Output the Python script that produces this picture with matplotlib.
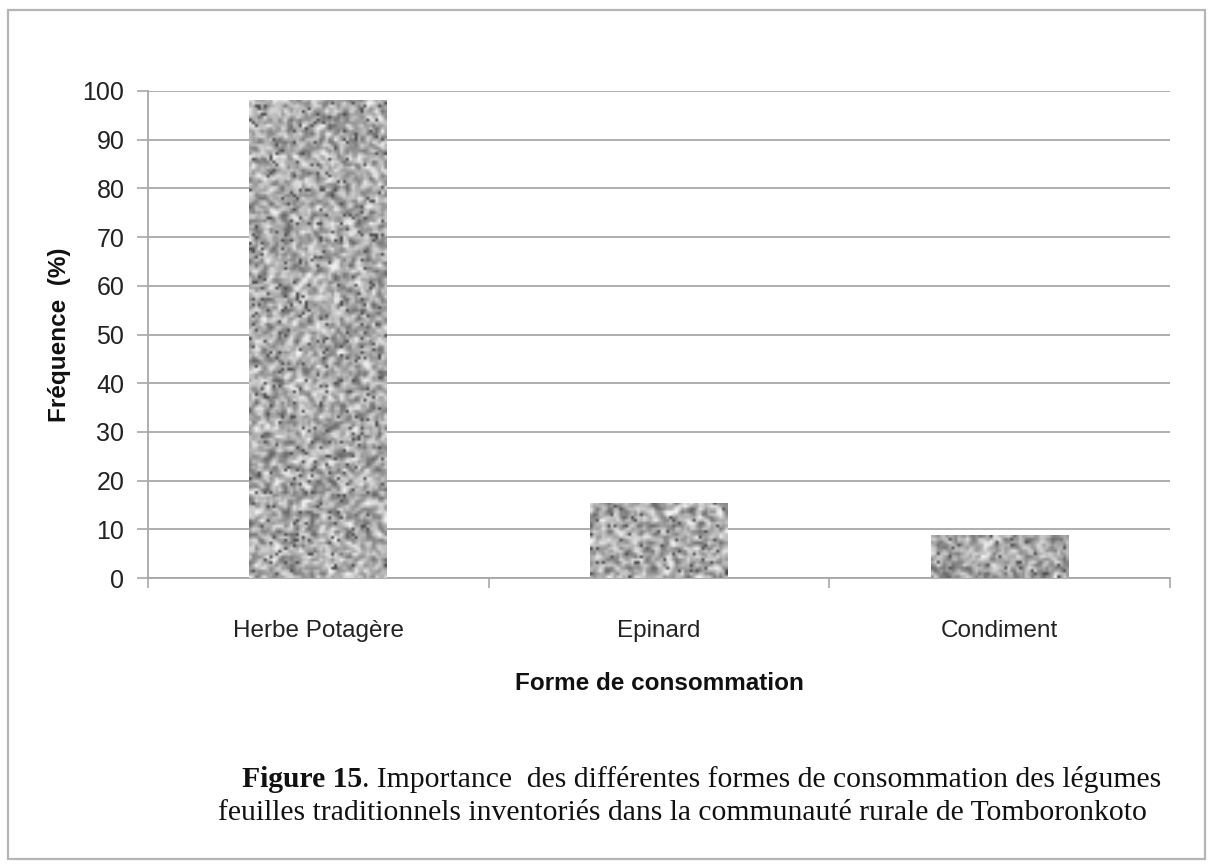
import numpy as np
import matplotlib.pyplot as plt
from matplotlib.patches import Rectangle

# data
categories = ["Herbe Potagère", "Epinard", "Condiment"]
frequences = [98.2, 15.5, 8.8]
yticks = list(range(0, 101, 10))

SANS = ["Liberation Sans", "DejaVu Sans"]
SERIF = ["Liberation Serif", "DejaVu Serif"]

fig = plt.figure(figsize=(12.11, 8.64), dpi=100)
fig.patch.set_facecolor("white")

# outer frame of the figure
fig.add_artist(Rectangle((0.007, 0.006), 0.988, 0.982, transform=fig.transFigure,
                         fill=False, edgecolor="#b5b5b5", linewidth=1.6))

ax = fig.add_axes([148 / 1211, 1 - 578 / 864, (1170 - 148) / 1211, (578 - 91) / 864])

x = np.arange(len(categories))
bars = ax.bar(x, frequences, width=0.405, color="none", edgecolor="none", zorder=3)

# granite-like texture clipped to each bar
rng = np.random.default_rng(15)
for b in bars:
    h = max(int(b.get_height() * 1.75), 8)
    noise = rng.random((h + 1, 48))
    noise = 0.55 * noise[:-1, :] + 0.45 * noise[1:, :]
    noise = 0.55 * noise[:, :-1] + 0.45 * noise[:, 1:]
    img = 0.40 + 0.55 * np.clip((noise - 0.15) / 0.7, 0, 1)
    specks = rng.random(img.shape) < 0.05
    img[specks] = 0.30
    im = ax.imshow(img, cmap="gray", vmin=0, vmax=1, aspect="auto",
                   interpolation="bilinear",
                   extent=(b.get_x(), b.get_x() + b.get_width(), 0, b.get_height()),
                   zorder=3)
    im.set_clip_path(b)

ax.set_xlim(-0.5, len(categories) - 0.5)
ax.set_ylim(0, 100)
ax.set_yticks(yticks)
ax.set_xticks(x)
ax.set_xticklabels(categories, fontfamily=SANS, fontsize=17.5, color="#222222")
ax.set_yticklabels([str(v) for v in yticks], fontfamily=SANS, fontsize=18, color="#222222")
ax.set_xticks(np.arange(-0.5, len(categories)), minor=True)

ax.yaxis.grid(True, color="#a8a8a8", linewidth=1.3, zorder=0)
ax.set_axisbelow(True)
ax.tick_params(axis="y", length=8, width=1.2, color="#a8a8a8", pad=9)
ax.tick_params(axis="x", which="major", length=0, pad=30)
ax.tick_params(axis="x", which="minor", length=7, width=1.2, color="#a8a8a8")

for s in ["top", "right"]:
    ax.spines[s].set_visible(False)
for s in ["left", "bottom"]:
    ax.spines[s].set_color("#a8a8a8")
    ax.spines[s].set_linewidth(1.3)

ax.set_ylabel("Fréquence  (%)", fontfamily=SANS, fontsize=17.5, fontweight="bold",
              color="#111111", labelpad=8)
ax.set_xlabel("Forme de consommation", fontfamily=SANS, fontsize=17.5, fontweight="bold",
              color="#111111", labelpad=22)

# caption, first words in bold
t1 = fig.text(242 / 1211, 1 - 787 / 864, "Figure 15", fontfamily=SERIF, fontsize=21.3,
              fontweight="bold", color="#111111", va="baseline")
ax.annotate(". Importance  des différentes formes de consommation des légumes",
            xy=(1, 0), xycoords=t1, va="bottom", ha="left",
            fontfamily=SERIF, fontsize=21.3, color="#111111", annotation_clip=False)
fig.text(218 / 1211, 1 - 820 / 864,
         "feuilles traditionnels inventoriés dans la communauté rurale de Tomboronkoto",
         fontfamily=SERIF, fontsize=21.3, color="#111111", va="baseline")

fig.savefig("out.png", dpi=100, facecolor="white")
